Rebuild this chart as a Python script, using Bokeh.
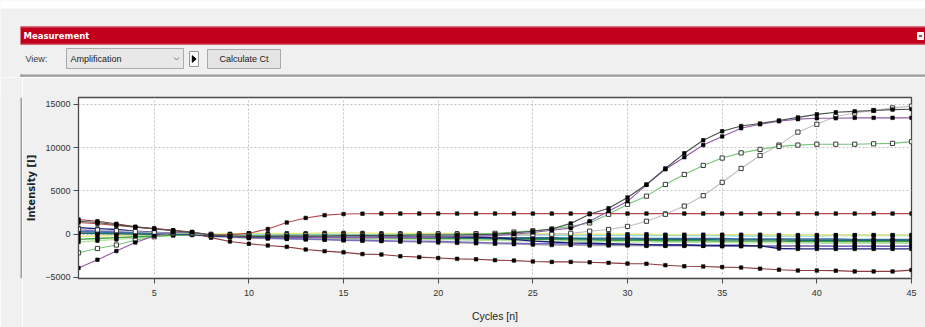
from bokeh.plotting import figure
from bokeh.models import Range1d, FixedTicker
from bokeh.layouts import column, row
from bokeh.embed import file_html
from bokeh.resources import INLINE
from bokeh.core.properties import value

# ---------------- data ----------------
cycles = list(range(1, 46))
x_ticks = [5, 10, 15, 20, 25, 30, 35, 40, 45]
y_ticks = [-5000, 0, 5000, 10000, 15000]

amp_dark = [1500, 1350, 1100, 850, 600, 400, 200, -100, -200, -250,
            -250, -200, -200, -200, -150, -150, -150, -150, -100, -100,
            -100, -50, 0, 150, 350, 600, 1250, 2300, 3000, 4250,
            5750, 7600, 9350, 10850, 11900, 12500, 12800, 13150, 13500, 13850,
            14100, 14200, 14300, 14400, 14450]
amp_purple = [-3900, -2950, -1950, -950, -200, 200, 250, -100, -250, -300,
              -300, -350, -350, -400, -400, -400, -400, -400, -400, -350,
              -300, -250, -150, 0, 200, 450, 700, 1500, 2650, 3800,
              5700, 7500, 8900, 10300, 11300, 12250, 12700, 13050, 13300, 13400,
              13400, 13450, 13450, 13450, 13450]
amp_green = [-2150, -1650, -1250, -700, -300, 150, 100, -100, -150, -150,
             -150, -100, -100, -100, -100, -100, -100, -50, -50, 0,
             0, 50, 100, 250, 400, 600, 900, 1300, 2300, 3450,
             4400, 5750, 6900, 7950, 8800, 9400, 9800, 10150, 10300, 10400,
             10400, 10400, 10450, 10500, 10700]
amp_gray = [600, 500, 400, 300, 200, 100, 50, -100, -150, -150,
            -200, -200, -200, -200, -200, -200, -200, -200, -200, -200,
            -200, -200, -150, -150, -50, 0, 100, 350, 550, 900,
            1500, 2300, 3250, 4450, 6000, 7600, 9100, 10300, 11800, 12700,
            13600, 14000, 14300, 14600, 14800]
red_step = [1350, 1200, 1000, 800, 650, 450, 250, -100, -50, 100,
            600, 1350, 1880, 2200, 2330, 2370, 2380, 2380, 2380, 2380,
            2380, 2380, 2380, 2380, 2380, 2380, 2380, 2380, 2380, 2380,
            2380, 2380, 2380, 2380, 2380, 2380, 2380, 2380, 2380, 2380,
            2380, 2380, 2380, 2380, 2380]
red_down = [1700, 1500, 1200, 850, 650, 450, 200, -400, -850, -1100,
            -1300, -1460, -1770, -1960, -2100, -2300, -2350, -2550, -2650, -2750,
            -2850, -2900, -3000, -3050, -3150, -3200, -3200, -3250, -3310, -3400,
            -3420, -3580, -3700, -3730, -3800, -3850, -3980, -4100, -4200, -4200,
            -4210, -4300, -4300, -4300, -4150]
base_cyan = [350, 300, 250, 200, 150, 100, 50, 0, 0, 0,
             -50, -50, 0, 0, 0, -50, -50, -50, -50, -100,
             -100, -100, -100, -100, -100, -100, -150, -150, -150, -150,
             -150, -150, -150, -150, -150, -200, -200, -200, -200, -200,
             -150, -150, -150, -150, -150]
base_yellow = [-250, -200, -150, -100, -50, 0, 50, 50, 50, 100,
               100, 100, 100, 150, 150, 150, 100, 100, 100, 100,
               100, 100, 50, 50, 50, 50, 0, 0, 0, 0,
               0, -50, -50, -50, -50, -50, -50, -100, -100, -100,
               -100, -100, -100, -100, -100]
base_teal = [100, 80, 50, 30, 0, -20, -50, -100, -150, -200,
             -250, -250, -300, -300, -300, -350, -350, -350, -400, -400,
             -400, -450, -450, -450, -500, -500, -500, -550, -550, -550,
             -600, -600, -600, -600, -650, -650, -650, -650, -700, -700,
             -700, -700, -700, -700, -700]
base_green = [-600, -500, -400, -300, -200, -100, -50, -150, -200, -250,
              -300, -300, -350, -350, -400, -400, -400, -450, -450, -500,
              -500, -500, -550, -550, -600, -600, -650, -650, -700, -700,
              -700, -750, -750, -750, -800, -800, -800, -800, -850, -850,
              -850, -850, -850, -850, -850]
base_lightgreen = [-900, -750, -600, -450, -300, -150, -50, -200, -300, -350,
                   -400, -450, -450, -500, -500, -550, -550, -600, -600, -650,
                   -650, -700, -700, -750, -750, -800, -800, -850, -850, -900,
                   -900, -900, -950, -950, -950, -1000, -1000, -1000, -1000, -1050,
                   -1050, -1050, -1050, -1050, -1050]
base_gray = [200, 150, 100, 50, 0, -50, -100, -250, -350, -450,
             -500, -550, -600, -650, -700, -750, -800, -850, -900, -950,
             -1000, -1050, -1100, -1150, -1200, -1250, -1250, -1300, -1300, -1300,
             -1350, -1350, -1350, -1350, -1400, -1400, -1400, -1400, -1400, -1400,
             -1400, -1400, -1400, -1400, -1400]
base_violet = [500, 400, 300, 200, 100, 0, -50, -200, -300, -400,
               -450, -500, -550, -600, -700, -700, -750, -800, -800, -850,
               -900, -950, -1000, -1050, -1100, -1100, -1150, -1150, -1200, -1200,
               -1250, -1250, -1250, -1300, -1300, -1300, -1350, -1350, -1350, -1350,
               -1400, -1400, -1400, -1400, -1400]
base_navy = [750, 650, 550, 350, 230, 100, 0, -200, -250, -300,
             -300, -300, -300, -350, -350, -350, -300, -300, -300, -300,
             -300, -350, -400, -600, -800, -900, -1000, -1050, -1100, -1150,
             -1200, -1250, -1250, -1300, -1300, -1300, -1350, -1650, -1700, -1700,
             -1700, -1700, -1700, -1700, -1700]
base_steel = [300, 250, 200, 150, 100, 50, 0, -100, -150, -200,
              -200, -250, -250, -250, -300, -300, -300, -300, -350, -350,
              -350, -350, -400, -400, -400, -400, -450, -450, -450, -450,
              -500, -500, -500, -500, -500, -550, -550, -550, -550, -550,
              -550, -600, -600, -600, -600]

# (values, line colour)
baseline_series = [
    (base_cyan, "#8fd8e6"), (base_yellow, "#e6e67e"), (base_lightgreen, "#b5e39c"),
    (base_gray, "#a8a8a8"), (base_violet, "#7b68c8"), (base_green, "#3fa047"),
    (base_steel, "#3a6ea8"), (base_teal, "#1e6e6e"), (base_navy, "#1c1f7a"),
]
# (values, line colour, marker style)
main_series = [
    (red_down, "#8e3a3a", "filled"), (red_step, "#b8474a", "filled"),
    (amp_gray, "#c4bcc6", "hollow"), (amp_green, "#74c476", "hollow"),
    (amp_purple, "#8e5aa8", "filled"), (amp_dark, "#46504c", "filled"),
]

FONT = "Liberation Sans"

# ---------------- header (toolbar area) ----------------
hdr = figure(width=925, height=77, x_range=Range1d(0, 925), y_range=Range1d(77, 0),
             output_backend="svg", toolbar_location=None, min_border=0,
             x_axis_location=None, y_axis_location=None,
             background_fill_color="#f0f0f0", border_fill_color="#f0f0f0",
             outline_line_color=None)
hdr.xgrid.visible = False
hdr.ygrid.visible = False
hdr.quad(left=[0], right=[925], top=[0], bottom=[8], fill_color="white", line_color=None)
hdr.quad(left=[20], right=[925], top=[26], bottom=[44], fill_color="#c2001d", line_color=None)
hdr.segment(x0=[20], y0=[26.5], x1=[925], y1=[26.5], line_color="#d66a78", line_width=1)
hdr.segment(x0=[20], y0=[43.5], x1=[925], y1=[43.5], line_color="#cf4a5c", line_width=1)
hdr.text(x=[23], y=[35.5], text=["Measurement"], text_color="white", text_font=value("DejaVu Sans"),
         text_font_size="8.5px", text_font_style="bold", text_baseline="middle")
hdr.quad(left=[917], right=[923], top=[32], bottom=[39], fill_color="#eeeeee", line_color="#ffffff")
hdr.segment(x0=[918.5], y0=[35.5], x1=[921.5], y1=[35.5], line_color="#444444", line_width=1.5)

hdr.text(x=[25], y=[58], text=["View:"], text_color="#3a3a3a", text_font=value(FONT),
         text_font_size="9px", text_baseline="middle")
hdr.quad(left=[66], right=[183], top=[48], bottom=[68], fill_color="#e8e8e8", line_color="#ababab")
hdr.text(x=[70], y=[58.5], text=["Amplification"], text_color="#202020", text_font=value(FONT),
         text_font_size="9px", text_baseline="middle")
hdr.line(x=[173.5, 176, 178.5], y=[57, 59.5, 57], line_color="#777777", line_width=1)
hdr.quad(left=[189], right=[198], top=[51], bottom=[66], fill_color="#fafafa", line_color="#9a9a9a")
hdr.patch(x=[191.8, 191.8, 195.6], y=[55.2, 61.8, 58.5], fill_color="black", line_color="black")
hdr.quad(left=[207], right=[280], top=[49], bottom=[68], fill_color="#e4e4e4", line_color="#a8a8a8")
hdr.text(x=[243.5], y=[58.5], text=["Calculate Ct"], text_color="#202020", text_font=value(FONT),
         text_font_size="9px", text_baseline="middle", text_align="center")
hdr.quad(left=[20], right=[925], top=[74], bottom=[76.2], fill_color="#9c9c9c", line_color=None)
hdr.quad(left=[20], right=[22], top=[74], bottom=[77], fill_color="#9c9c9c", line_color=None)

# ---------------- left strip (panel border) ----------------
strip = figure(width=22, height=250, x_range=Range1d(0, 22), y_range=Range1d(327, 77),
               output_backend="svg", toolbar_location=None, min_border=0,
               x_axis_location=None, y_axis_location=None,
               background_fill_color="#f0f0f0", border_fill_color="#f0f0f0",
               outline_line_color=None)
strip.xgrid.visible = False
strip.ygrid.visible = False
strip.quad(left=[20], right=[22], top=[77], bottom=[327], fill_color="#9c9c9c", line_color=None)

# ---------------- main chart ----------------
p = figure(width=903, height=250, x_range=Range1d(1, 45), y_range=Range1d(-5120, 15800),
           output_backend="svg", toolbar_location=None,
           min_border_left=56, min_border_right=14, min_border_top=20, min_border_bottom=49,
           background_fill_color="white", border_fill_color="#f0f0f0",
           outline_line_color="#4a4a4a", outline_line_width=1.3)

p.xaxis.ticker = FixedTicker(ticks=x_ticks)
p.yaxis.ticker = FixedTicker(ticks=y_ticks)
for ax in (p.xaxis, p.yaxis):
    ax.minor_tick_line_color = None
    ax.major_tick_in = 0
    ax.major_tick_out = 5
    ax.axis_line_color = "#4a4a4a"
    ax.major_tick_line_color = "#4a4a4a"
    ax.major_label_text_font = FONT
    ax.major_label_text_font_size = "9px"
    ax.major_label_text_color = "#333333"
p.xaxis.major_label_standoff = 6
p.yaxis.major_label_standoff = 3
p.yaxis.axis_label = "Intensity [I]"
p.yaxis.axis_label_text_font = "DejaVu Sans"
p.yaxis.axis_label_text_font_size = "10px"
p.yaxis.axis_label_text_font_style = "bold"
p.yaxis.axis_label_text_color = "#222222"
p.yaxis.axis_label_standoff = 5
p.xaxis.axis_label = "Cycles [n]"
p.xaxis.axis_label_text_font = FONT
p.xaxis.axis_label_text_font_size = "10.5px"
p.xaxis.axis_label_text_font_style = "normal"
p.xaxis.axis_label_text_color = "#222222"
p.xaxis.axis_label_standoff = 11

for g in (p.xgrid, p.ygrid):
    g.grid_line_color = "#c2c2c2"
    g.grid_line_dash = "2 2"
    g.grid_line_width = 1

for vals, col in baseline_series:
    p.line(cycles, vals, line_color=col, line_width=1.4)
for vals, col, style in main_series:
    p.line(cycles, vals, line_color=col, line_width=1.1)
for vals, col in baseline_series:
    p.scatter(cycles, vals, marker="square", size=3.5, fill_color="black", line_color="black", line_width=0.6)
for vals, col, style in main_series:
    if style == "filled":
        p.scatter(cycles, vals, marker="square", size=3.5, fill_color="black", line_color="black", line_width=0.6)
    else:
        p.scatter(cycles, vals, marker="square", size=4.2, fill_color="white", line_color="#3a3a3a", line_width=1)

layout = column(hdr, row(strip, p, spacing=0), spacing=0)

open("out.html", "w").write(file_html(layout, INLINE))
